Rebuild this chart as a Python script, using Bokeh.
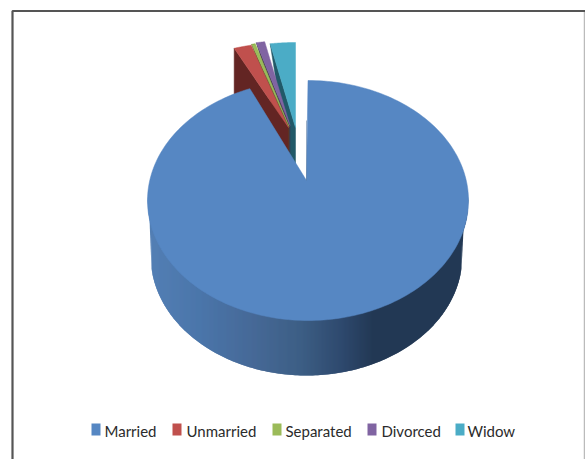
import numpy as np
from bokeh.core.properties import value
from bokeh.embed import file_html
from bokeh.models import Range1d
from bokeh.plotting import figure
from bokeh.resources import INLINE

# Share of each marital status, in percent
categories = ["Married", "Unmarried", "Separated", "Divorced", "Widow"]
shares = [94.1, 1.9, 0.4, 0.9, 2.7]
top_colors = ["#5687c3", "#c0504d", "#9bbb59", "#8064a2", "#4bacc6"]
wall_colors = ["#2f4d70", "#632523", "#4a5c28", "#3f3151", "#215968"]

p = figure(width=585, height=459, output_backend="svg", toolbar_location=None,
           x_range=Range1d(0, 585), y_range=Range1d(459, 0), min_border=0,
           outline_line_color=None, background_fill_color="white")
p.xaxis.visible = False
p.yaxis.visible = False
p.grid.visible = False

# Chart frame
p.line([584, 584], [11, 459], line_color="#bbbbbb", line_width=1.5)
p.line([12, 12, 585], [459, 10.5, 10.5], line_color="#555555", line_width=2.2)

# Wedge angles run clockwise from twelve o'clock, starting with the first category
starts = np.r_[0, np.cumsum(shares)[:-1]] * 3.6
ends = np.cumsum(shares) * 3.6


def rim(a0, a1, rx, ry, cx, cy, n=80):
    t = np.radians(np.linspace(a0, a1, n))
    return cx + rx * np.sin(t), cy - ry * np.cos(t)


# Exploded narrow slices: apex position, wall depth at apex / at the rim,
# and how far the foot of the wall reaches back towards the neighbouring slice
apex = {1: (288, 127), 2: (288.5, 126), 3: (289.5, 125), 4: (295, 127)}
wall = {1: (55, 50, 0), 2: (30, 0, 0), 3: (30, 0, 0), 4: (38, 0, 6)}
for i in [4, 3, 2, 1]:
    ax, ay = apex[i]
    rx_out, ry_out = rim(starts[i], ends[i], 150, 85, ax, ay)
    d_apex, d_rim, back = wall[i]
    p.patch([rx_out[0], rx_out[0], ax - back, ax, ax],
            [ry_out[0], ry_out[0] + d_rim, ay + d_apex, ay + d_apex, ay],
            fill_color=wall_colors[i], line_color=wall_colors[i], line_width=0.5)
    p.patch(np.r_[ax, rx_out], np.r_[ay, ry_out],
            fill_color=top_colors[i], line_color=top_colors[i], line_width=0.5)

# Side wall of the large slice, shaded in overlapping vertical strips
CX, CY, RX, RY = 307.5, 200, 160.5, 120
LCX, LCY, LRX, LRY = 306, 255, 156, 120
stop_x = [147, 200, 250, 300, 340, 372, 470]
stop_c = [(84, 128, 181), (75, 118, 170), (71, 106, 152), (61, 95, 133), (47, 74, 111), (35, 57, 85), (35, 57, 85)]


def wall_edges(x):
    upper = CY + RY * np.sqrt(max(0, 1 - ((x - CX) / RX) ** 2))
    t = (x - LCX) / LRX
    lower = LCY + LRY * np.sqrt(1 - t * t) if abs(t) < 1 else upper
    return upper, max(lower, upper)


xs = np.arange(147.0, 467, 1.0)
strip_x, strip_y, strip_c = [], [], []
for x in xs:
    u0, l0 = wall_edges(x)
    u1, l1 = wall_edges(x + 2)
    strip_x.append([x, x + 2, x + 2, x])
    strip_y.append([u0 - 4, u1 - 4, l1, l0])
    c = [int(np.interp(x, stop_x, [s[k] for s in stop_c])) for k in range(3)]
    strip_c.append("#%02x%02x%02x" % tuple(c))
p.patches(strip_x, strip_y, fill_color=strip_c, fill_alpha=1.0, line_color=None)

# Top of the large slice, with its apex pushed off the ellipse centre
ex, ey = rim(starts[0], ends[0], RX, RY, CX, CY, 240)
ax0, ay0 = 306, 180
p.patch(np.r_[ax0, ex], np.r_[ay0, ey], fill_color=top_colors[0], line_color=top_colors[0], line_width=0.5)
p.line([306, 306], [120, 180], line_color="#3f6592", line_width=0.8, line_alpha=0.6)

# Legend
swatch_left = [91, 172, 272, 367, 455]
label_left = [104, 186, 285, 381, 467]
p.quad(left=swatch_left, right=[x + 9 for x in swatch_left], top=[423] * 5, bottom=[435] * 5,
       fill_color=top_colors, line_color=None)
p.text(x=label_left, y=[430] * 5, text=categories, text_font=value("Lato"),
       text_font_size="15px", text_color="#2b2b2b", text_baseline="middle", text_align="left")

open("out.html", "w").write(file_html(p, INLINE))
